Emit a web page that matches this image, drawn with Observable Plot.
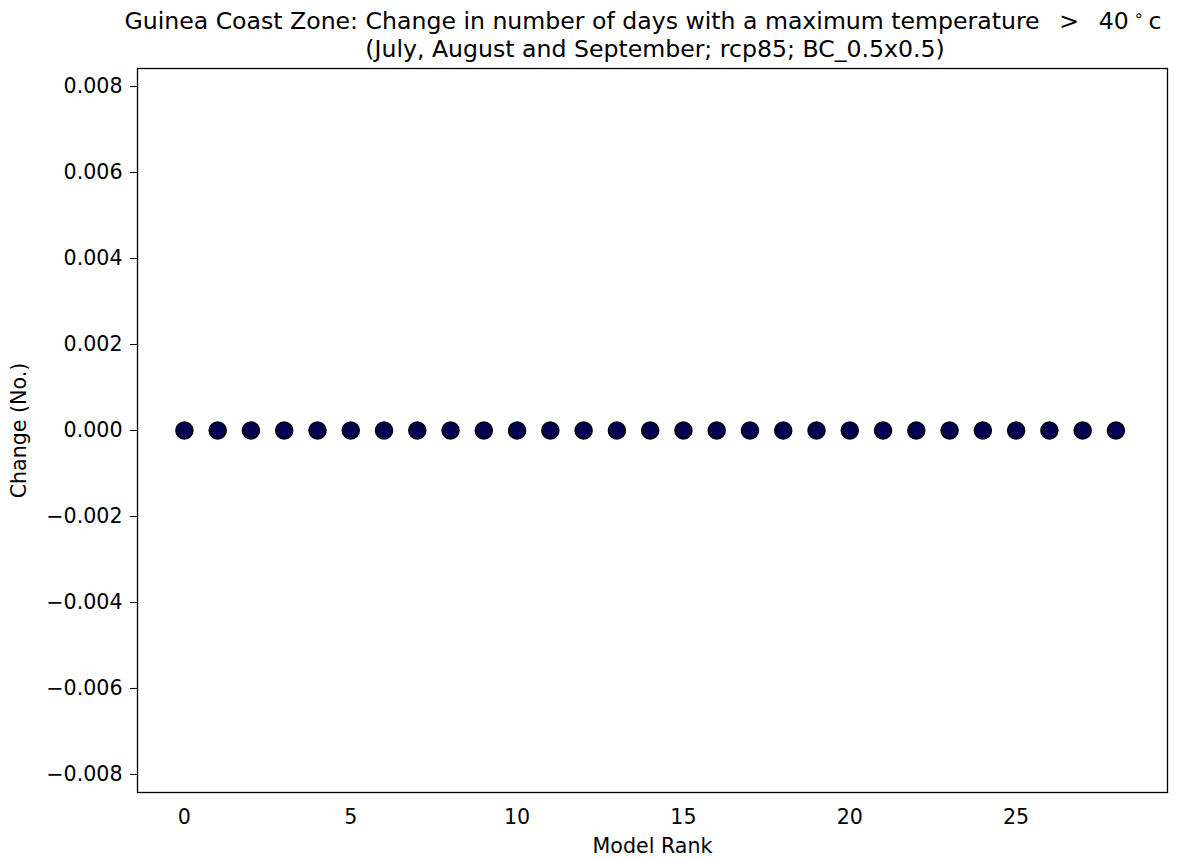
<!DOCTYPE html>
<html>
<head>
<meta charset="utf-8">
<script src="https://cdn.jsdelivr.net/npm/d3@7"></script>
<script src="https://cdn.jsdelivr.net/npm/@observablehq/plot@0.6"></script>
<style>
  body { margin: 0; background: #fff; font-family: "DejaVu Sans", sans-serif; }
  #title { position: relative; height: 60px; color: #000; }
  #title div { position: absolute; transform: translateX(-50%); white-space: nowrap; font-size: 23.6px; line-height: 24px; }
  #t1 { left: 643px; top: 9px; }
  #t2 { left: 655px; top: 37px; }
  #title sup { font-size: 0.7em; vertical-align: 0.5em; line-height: 0; }
</style>
</head>
<body>
<div id="title">
  <div id="t1">Guinea Coast Zone: Change in number of days with a maximum temperature &nbsp;&thinsp;&gt;&thinsp;&nbsp; 40&thinsp;<sup>∘</sup>&thinsp;c</div>
  <div id="t2">(July, August and September; rcp85; BC_0.5x0.5)</div>
</div>
<div id="chart"></div>
<script>
const ranks = [0,1,2,3,4,5,6,7,8,9,10,11,12,13,14,15,16,17,18,19,20,21,22,23,24,25,26,27,28];
const changes = [0,0,0,0,0,0,0,0,0,0,0,0,0,0,0,0,0,0,0,0,0,0,0,0,0,0,0,0,0];
const xTicks = [0,5,10,15,20,25];
const yTicks = [-0.008,-0.006,-0.004,-0.002,0,0.002,0.004,0.006,0.008];

const data = ranks.map((r, i) => ({rank: r, change: changes[i]}));

const chart = Plot.plot({
  width: 1178,
  height: 799,
  marginTop: 8,
  marginBottom: 67,
  marginLeft: 137,
  marginRight: 11,
  style: {fontFamily: "DejaVu Sans, sans-serif", fontSize: "20.6px", color: "#000", background: "#fff"},
  x: {domain: [-1.41, 29.55], ticks: xTicks},
  y: {domain: [-0.00842, 0.00842], ticks: yTicks},
  marks: [
    Plot.frame({stroke: "#000", strokeWidth: 1.3}),
    Plot.axisX({ticks: xTicks, tickSize: 0, tickPadding: 17, label: "Model Rank", labelAnchor: "center", labelArrow: "none", labelOffset: 60, fontSize: 20.6}),
    Plot.axisY({ticks: yTicks, tickSize: 7, tickPadding: 8, tickFormat: d3.format(".3f"), label: "Change (No.)", labelAnchor: "center", labelArrow: "none", labelOffset: 126, fontSize: 20.6}),
    Plot.dot(data, {x: "rank", y: "change", r: 8.5, fill: "#000050", stroke: "#000", strokeWidth: 1.5})
  ]
});
document.getElementById("chart").appendChild(chart);
</script>
</body>
</html>
